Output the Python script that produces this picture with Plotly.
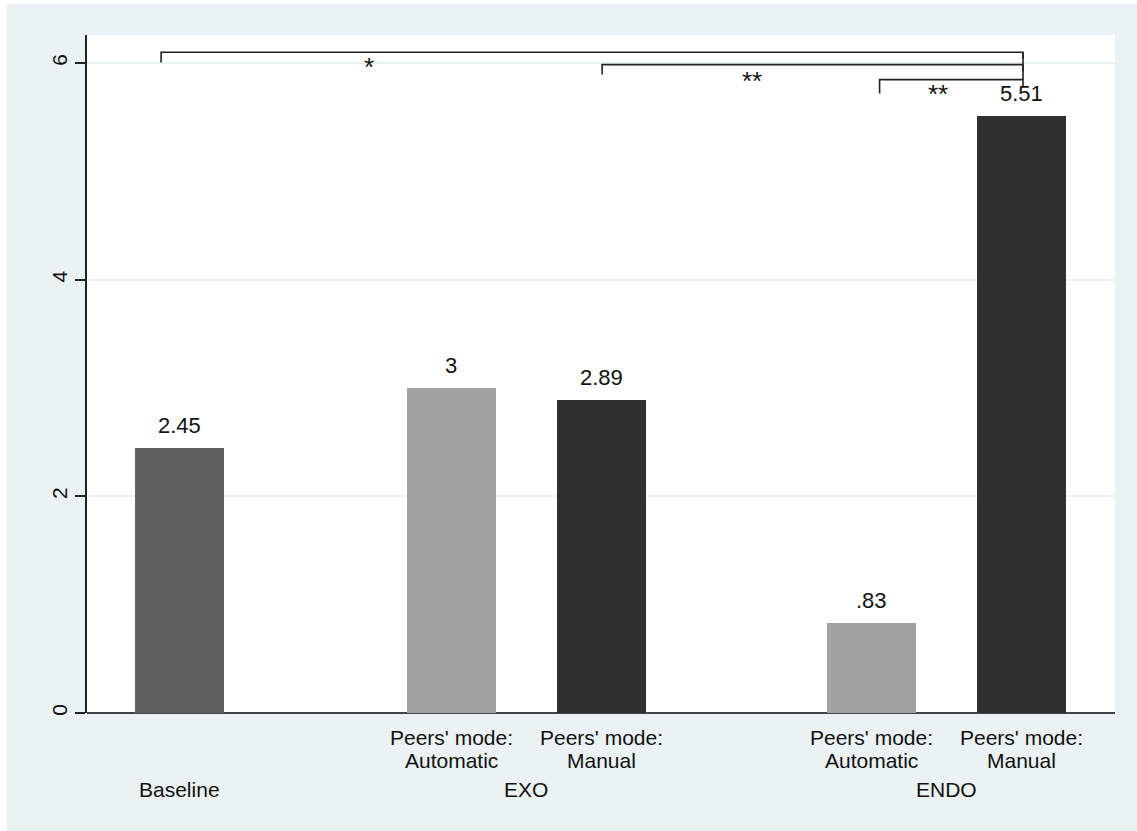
import plotly.graph_objects as go

# ---- data ----
groups = ["Baseline", "EXO", "EXO", "ENDO", "ENDO"]
sublabels = ["", "Peers' mode:<br>Automatic", "Peers' mode:<br>Manual",
             "Peers' mode:<br>Automatic", "Peers' mode:<br>Manual"]
values = [2.45, 3.00, 2.89, 0.83, 5.51]
group_names = ["Baseline", "EXO", "ENDO"]
sig_stars = ["*", "**", "**"]

# ---- layout constants ----
positions = [0.0, 1.81, 2.81, 4.613, 5.613]
bar_colors = ["#606060", "#A1A1A1", "#303030", "#A1A1A1", "#303030"]
BG = "#EAF2F3"
W, H = 1137, 831
ML, MR, MT, MB = 87, 22, 35, 118
PW, PH = W - ML - MR, H - MT - MB
PX_PER_Y = 108.33
YMAX = PH / PX_PER_Y
XMIN, XMAX = -0.617, -0.617 + PW / 150.0

FONT = "Liberation Sans, Arial, sans-serif"
TXT = "#111"


def fmt(v):
    s = f"{v:.2f}".rstrip("0").rstrip(".")
    if s.startswith("0."):
        s = s[1:]
    return s


fig = go.Figure()
fig.add_trace(go.Bar(
    x=positions, y=values, width=0.593,
    marker=dict(color=bar_colors, line=dict(width=0)),
    hoverinfo="skip", showlegend=False,
))

ann = []
for x, v in zip(positions, values):
    ann.append(dict(x=x, y=v, xref="x", yref="y", text=fmt(v), showarrow=False,
                    yanchor="bottom", yshift=8,
                    font=dict(family=FONT, size=22, color=TXT)))
line_shifts = [-24, -47.5]
for x, t in zip(positions, sublabels):
    if t:
        for line, ys in zip(t.split("<br>"), line_shifts):
            ann.append(dict(x=x, y=0, xref="x", yref="paper", text=line, showarrow=False,
                            yanchor="middle", yshift=ys,
                            font=dict(family=FONT, size=21, color=TXT)))
for g in group_names:
    xs = [p for p, gg in zip(positions, groups) if gg == g]
    ann.append(dict(x=sum(xs) / len(xs), y=0, xref="x", yref="paper", text=g,
                    showarrow=False, yanchor="middle", yshift=-76.5,
                    font=dict(family=FONT, size=21, color=TXT)))

brackets = [
    (-0.123, 5.623, 6.10, 6.005, 1.263, 5.96),
    (2.817, 5.623, 5.985, 5.893, 3.817, 5.83),
    (4.667, 5.623, 5.847, 5.718, 5.057, 5.715),
]
shapes = [
    dict(type="rect", xref="paper", yref="paper", x0=-ML / PW, x1=(7 - ML) / PW,
         y0=-MB / PH - 0.01, y1=(PH + MT) / PH + 0.01,
         fillcolor="white", line=dict(width=0)),
    dict(type="rect", xref="paper", yref="paper", x0=-ML / PW, x1=(W - ML) / PW + 0.01,
         y0=(PH + MT - 4) / PH, y1=(PH + MT) / PH + 0.01,
         fillcolor="white", line=dict(width=0)),
]
for (xl, xr, yt, yb, sx, sy), star in zip(brackets, sig_stars):
    shapes.append(dict(type="path", xref="x", yref="y",
                       path=f"M {xl},{yb} L {xl},{yt} L {xr},{yt} L {xr},{yt - 0.06}",
                       line=dict(color="#222", width=1.6)))
    ann.append(dict(x=sx, y=sy, xref="x", yref="y", text=star, showarrow=False,
                    font=dict(family=FONT, size=26, color=TXT)))
shapes.append(dict(type="line", xref="x", yref="y", x0=5.623, x1=5.623,
                   y0=brackets[0][2], y1=brackets[2][2],
                   line=dict(color="#222", width=1.6)))

fig.update_layout(
    width=W, height=H,
    margin=dict(l=ML, r=MR, t=MT, b=MB, pad=0),
    paper_bgcolor=BG, plot_bgcolor="white",
    annotations=ann, shapes=shapes, bargap=0,
    xaxis=dict(range=[XMIN, XMAX], showticklabels=False, ticks="", showgrid=False,
               zeroline=False, showline=False, fixedrange=True),
    yaxis=dict(range=[0, YMAX], tickvals=[0, 2, 4, 6], ticktext=["0", "2", "4", "6"],
               tickangle=-90, ticks="outside", ticklen=10, tickwidth=1.5, tickcolor="#222",
               showline=True, linecolor="#222", linewidth=1.5,
               showgrid=True, gridcolor=BG, gridwidth=2,
               zeroline=True, zerolinecolor="#444", zerolinewidth=2,
               tickfont=dict(family=FONT, size=21, color=TXT), fixedrange=True),
)

fig.write_html("out.html", config={"displayModeBar": False},
               post_script="document.body.style.margin='0';")
